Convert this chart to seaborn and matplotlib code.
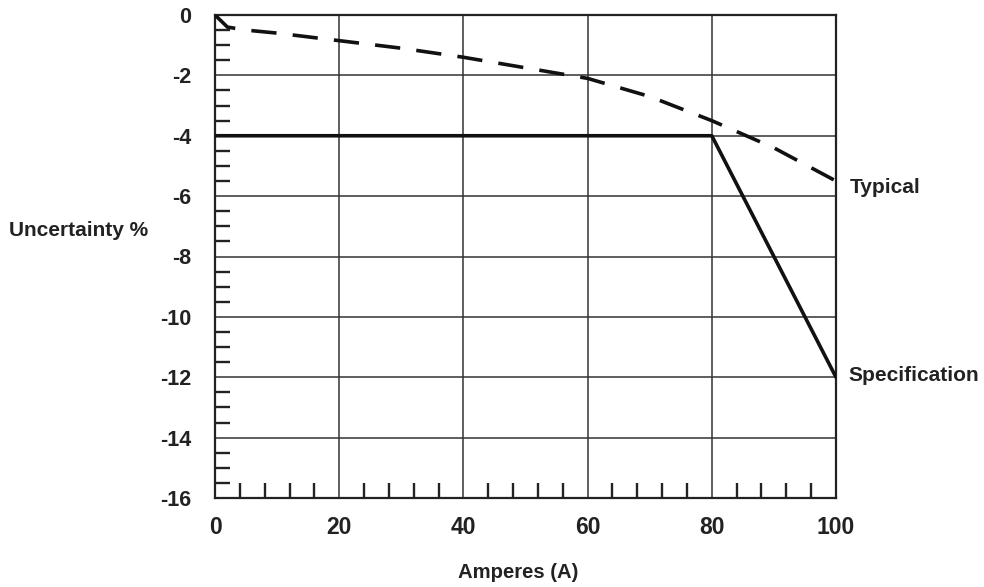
import matplotlib
matplotlib.use("Agg")
import matplotlib.pyplot as plt
import seaborn as sns
import pandas as pd
from matplotlib.ticker import MultipleLocator

# Data
typical_x = [0, 2, 5, 10, 20, 30, 40, 50, 60, 70, 80, 90, 100]
typical_y = [0, -0.4, -0.5, -0.6, -0.85, -1.1, -1.4, -1.75, -2.1, -2.7, -3.5, -4.4, -5.5]
spec_x = [0, 80, 100]
spec_y = [-4.0, -4.0, -12.0]
x_ticks = [0, 20, 40, 60, 80, 100]
y_ticks = [0, -2, -4, -6, -8, -10, -12, -14, -16]
y_tick_labels = ["0", "-2", "-4", "-6", "-8", "-10", "-12", "-14", "-16"]
series_labels = ["Typical", "Specification"]

sns.set_theme(style="white")
font = ["Liberation Sans", "DejaVu Sans"]
plt.rcParams["font.family"] = font
plt.rcParams["axes.unicode_minus"] = False

fig = plt.figure(figsize=(9.84, 5.87), dpi=100)
ax = fig.add_axes([215 / 984, 1 - 498 / 587, (836 - 215) / 984, (498 - 15) / 587])

df_t = pd.DataFrame({"x": typical_x, "y": typical_y})
df_s = pd.DataFrame({"x": spec_x, "y": spec_y})

sns.lineplot(data=df_t, x="x", y="y", ax=ax, color="#111111", lw=2.6,
             linestyle=(0, (7, 4.5)), sort=False, zorder=4)
sns.lineplot(data=df_s, x="x", y="y", ax=ax, color="#111111", lw=2.6,
             sort=False, zorder=4)

ax.set_xlim(0, 100)
ax.set_ylim(-16, 0)
ax.set_xticks(x_ticks)
ax.set_xticklabels([str(v) for v in x_ticks])
ax.set_yticks(y_ticks)
ax.set_yticklabels(y_tick_labels)
ax.xaxis.set_minor_locator(MultipleLocator(4))
ax.yaxis.set_minor_locator(MultipleLocator(0.5))

ax.grid(True, which="major", color="#333333", lw=1.1)
ax.set_axisbelow(True)
for s in ax.spines.values():
    s.set_color("#222222")
    s.set_linewidth(1.6)
    s.set_visible(True)

ax.tick_params(axis="both", which="major", direction="in", length=0, colors="#222222")
ax.tick_params(axis="x", which="major", pad=13, labelsize=16.5)
ax.tick_params(axis="y", which="major", pad=17, labelsize=15.5)
ax.tick_params(axis="both", which="minor", direction="in", length=11, width=1.7,
               color="#222222", bottom=True, left=True)
for lab in ax.get_xticklabels() + ax.get_yticklabels():
    lab.set_fontweight("bold")
    lab.set_color("#222222")

ax.set_xlabel("")
ax.set_ylabel("")

fig.text(9 / 984, 1 - 231 / 587, "Uncertainty %", fontsize=15, fontweight="bold",
         color="#222222", ha="left", va="center", family=font)
fig.text(518 / 984, 1 - 573 / 587, "Amperes (A)", fontsize=14.6, fontweight="bold",
         color="#222222", ha="center", va="center", family=font)

ax.text(102.2, -5.7, series_labels[0], fontsize=15, fontweight="bold",
        color="#222222", ha="left", va="center", clip_on=False)
ax.text(102.0, -11.95, series_labels[1], fontsize=15, fontweight="bold",
        color="#222222", ha="left", va="center", clip_on=False)

fig.savefig("out.png", dpi=100, facecolor="white")
